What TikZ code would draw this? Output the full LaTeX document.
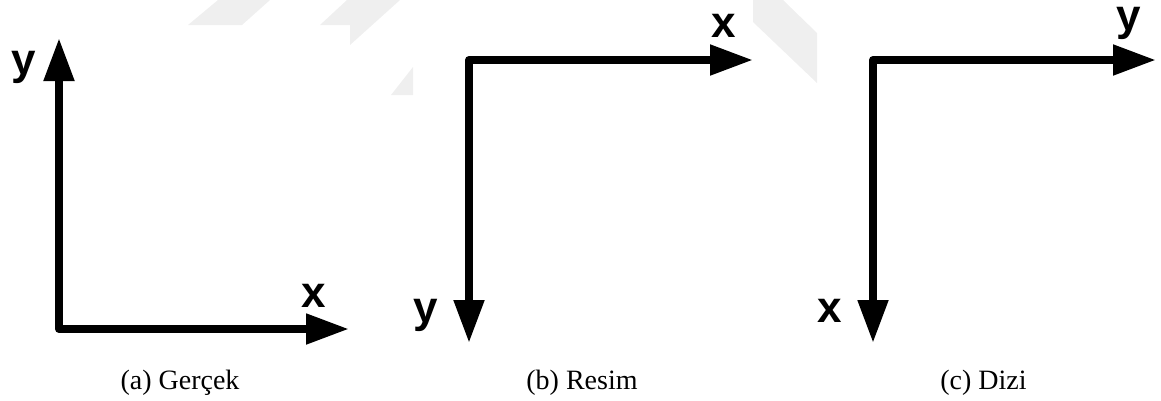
\documentclass[tikz,border=0pt]{standalone}
\usepackage{fontspec}
\setmainfont{Liberation Serif}
\setsansfont{Liberation Sans}
\usetikzlibrary{arrows.meta}
\definecolor{wm}{RGB}{239,239,239}
\tikzset{
  axis/.style={line width=8bp, line join=round,
    {Triangle[length=43bp,width=29bp]}-{Triangle[length=43bp,width=29bp]}},
  axlabel/.style={inner sep=0pt, anchor=base, font=\sffamily\bfseries\fontsize{44bp}{44bp}\selectfont},
  caption/.style={inner sep=0pt, anchor=base, font=\fontsize{28bp}{28bp}\selectfont},
  mark wm/.style={fill=wm, draw=none}
}
\begin{document}
\begin{tikzpicture}[x=1bp,y=-1bp]
\useasboundingbox (0,0) rectangle (1161,400);
% faint watermark pieces
\fill[mark wm] (218,0) -- (270,0) -- (242,25) -- (188,25) -- cycle;
\fill[mark wm] (347,0) -- (400,0) -- (350,45) -- (350,25) -- (320,25) -- cycle;
\fill[mark wm] (413,67) -- (413,95) -- (391,95) -- cycle;
\fill[mark wm] (753,0) -- (783,0) -- (817,33) -- (817,83) -- (753,22) -- cycle;
% (a) Gercek
\coordinate (a-o) at (59,329);
\coordinate (a-y) at (59,38);
\coordinate (a-x) at (349,329);
\draw[axis] (a-y) -- (a-o) -- (a-x);
\node[axlabel] (a-ly) at (23.5,74) {y};
\node[axlabel] (a-lx) at (313.5,307) {x};
\node[caption] (a-cap) at (180,389) {(a) Gerçek};
% (b) Resim
\coordinate (b-o) at (469,60);
\coordinate (b-x) at (753,60);
\coordinate (b-y) at (469,343);
\draw[axis] (b-x) -- (b-o) -- (b-y);
\node[axlabel] (b-lx) at (724,37) {x};
\node[axlabel] (b-ly) at (426,322) {y};
\node[caption] (b-cap) at (582,389) {(b) Resim};
% (c) Dizi
\coordinate (c-o) at (873,60);
\coordinate (c-y) at (1156,60);
\coordinate (c-x) at (873,343);
\draw[axis] (c-y) -- (c-o) -- (c-x);
\node[axlabel] (c-ly) at (1128.5,30) {y};
\node[axlabel] (c-lx) at (830,322) {x};
\node[caption] (c-cap) at (983.5,389) {(c) Dizi};
\end{tikzpicture}
\end{document}
